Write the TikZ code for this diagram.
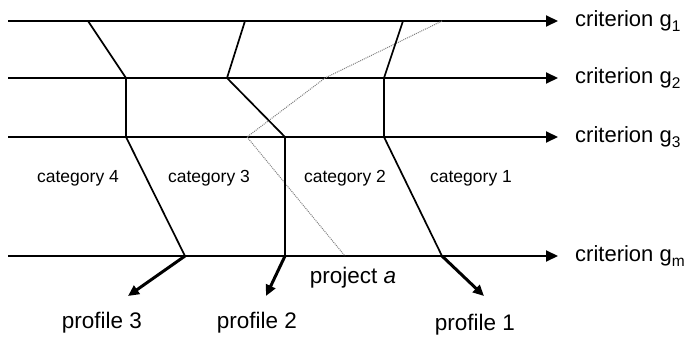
\documentclass[tikz,border=0pt]{standalone}
\usepackage{fontspec}
\setmainfont{Liberation Sans}
\usetikzlibrary{arrows.meta}
\newcommand{\mysub}[1]{\raisebox{-0.25em}{\fontsize{15.5}{15.5}\selectfont #1}}
\begin{document}
\begin{tikzpicture}[x=1pt,y=-1pt,
  axis/.style={line width=2pt,-{Triangle[length=12pt,width=11pt]}},
  prof/.style={line width=1.7pt},
  parr/.style={line width=3pt,-{Triangle[length=11pt,width=10pt]}},
  dotl/.style={line width=1pt,densely dotted,gray},
  crit/.style={anchor=west,font=\fontsize{22}{22}\selectfont,inner sep=0pt},
  cat/.style={font=\fontsize{17.5}{17.5}\selectfont,inner sep=0pt},
  lab/.style={font=\fontsize{22.5}{22.5}\selectfont,inner sep=0pt}]
\useasboundingbox (0,0) rectangle (691,340);
% axes
\coordinate (a1s) at (8,21);  \coordinate (a1e) at (558,21);
\coordinate (a2s) at (8,78);  \coordinate (a2e) at (558,78);
\coordinate (a3s) at (8,137); \coordinate (a3e) at (558,137);
\coordinate (ams) at (8,256); \coordinate (ame) at (558,256);
\draw[axis] (a1s) -- (a1e);
\draw[axis] (a2s) -- (a2e);
\draw[axis] (a3s) -- (a3e);
\draw[axis] (ams) -- (ame);
\node[crit] (c1) at (575,21) {criterion g\mysub{1}};
\node[crit] (c2) at (575,78) {criterion g\mysub{2}};
\node[crit] (c3) at (575,137) {criterion g\mysub{3}};
\node[crit] (cm) at (575,256) {criterion g\mysub{m}};
% profile 3
\coordinate (p3a) at (88,21);
\coordinate (p3b) at (126,78);
\coordinate (p3c) at (126,137);
\coordinate (p3d) at (185,256);
\coordinate (p3e) at (128,296);
% profile 2
\coordinate (p2a) at (245,21);
\coordinate (p2b) at (227,78);
\coordinate (p2c) at (285,137);
\coordinate (p2d) at (285,256);
\coordinate (p2e) at (266,296);
% profile 1
\coordinate (p1a) at (403,21);
\coordinate (p1b) at (384,78);
\coordinate (p1c) at (384,137);
\coordinate (p1d) at (442,256);
\coordinate (p1e) at (484,296);
% project a
\coordinate (qa) at (442,21);
\coordinate (qb) at (325,78);
\coordinate (qc) at (247,137);
\coordinate (qd) at (345,256);
\draw[dotl] (qa) -- (qb) -- (qc) -- (qd);
\draw[prof] (p3a) -- (p3b) -- (p3c) -- (p3d);
\draw[prof] (p2a) -- (p2b) -- (p2c) -- (p2d);
\draw[prof] (p1a) -- (p1b) -- (p1c) -- (p1d);
\draw[parr] (p3d) -- (p3e);
\draw[parr] (p2d) -- (p2e);
\draw[parr] (p1d) -- (p1e);
% categories
\node[cat] (k4) at (78,178) {category 4};
\node[cat] (k3) at (209,178) {category 3};
\node[cat] (k2) at (345,178) {category 2};
\node[cat] (k1) at (471,178) {category 1};
% labels
\node[lab] (pa) at (353,278) {project \textit{a}};
\node[lab] (l3) at (102,323) {profile 3};
\node[lab] (l2) at (257,323) {profile 2};
\node[lab] (l1) at (475,325) {profile 1};
\end{tikzpicture}
\end{document}
